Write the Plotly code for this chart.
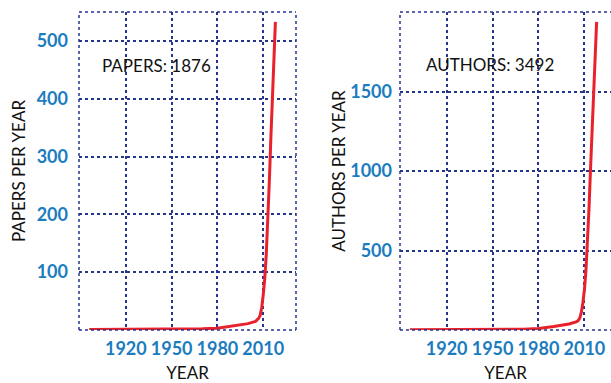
import plotly.graph_objects as go

# Papers published per year
paper_years = [1896, 1920, 1950, 1970, 1980, 1985, 1990, 1995, 2000, 2005, 2007,
               2008, 2009, 2010, 2011, 2012, 2013, 2014, 2015, 2016, 2017, 2018]
papers = [1, 1, 1, 2, 3, 5, 7, 9, 11, 15, 20,
          25, 38, 60, 88, 130, 185, 255, 330, 408, 485, 533]
total_papers = 1876

# Distinct authors per year
author_years = [1896, 1950, 1970, 1980, 1985, 1990, 1995, 2000, 2005, 2006, 2007,
                2008, 2009, 2010, 2011, 2012, 2013, 2014, 2015, 2016, 2017, 2018]
authors = [2, 3, 5, 10, 15, 22, 30, 38, 52, 60, 75,
           110, 170, 250, 370, 530, 760, 1010, 1250, 1520, 1760, 1938]
total_authors = 3492

year_ticks = [1920, 1950, 1980, 2010]
paper_ticks = [100, 200, 300, 400, 500]
author_ticks = [500, 1000, 1500]

W, H = 611, 383
LINE_RED = "#e8212b"
TICK_BLUE = "#1b7cc0"
GRID_BLUE = "#26358c"
FONT = "Lato"

fig = go.Figure()
fig.add_trace(go.Scatter(x=paper_years, y=papers, mode="lines",
                         line=dict(color=LINE_RED, width=3), xaxis="x", yaxis="y",
                         showlegend=False))
fig.add_trace(go.Scatter(x=author_years, y=authors, mode="lines",
                         line=dict(color=LINE_RED, width=3), xaxis="x2", yaxis="y2",
                         showlegend=False))

ydom = [1 - 330 / H, 1 - 12 / H]
tick_font = dict(family=FONT, size=18, color=TICK_BLUE)
title_font = dict(family=FONT, size=17, color="#111")


def xaxis_cfg(domain, rng, anchor):
    return dict(domain=domain, range=rng, anchor=anchor,
                tickvals=year_ticks, ticktext=[f"<b>{v}</b>" for v in year_ticks],
                tickfont=tick_font, ticks="", ticklabelstandoff=6,
                showline=False, zeroline=False,
                showgrid=True, gridcolor=GRID_BLUE, griddash="dot", gridwidth=1.5,
                title=dict(text="YEAR", font=title_font, standoff=18),
                automargin=False)


def yaxis_cfg(rng, ticks, anchor, title, standoff, label_gap):
    return dict(domain=ydom, range=rng, anchor=anchor,
                tickvals=ticks, ticktext=[f"<b>{v}</b>" for v in ticks],
                tickfont=tick_font, ticks="", ticklabelstandoff=label_gap,
                showline=False, zeroline=False,
                showgrid=True, gridcolor=GRID_BLUE, griddash="dot", gridwidth=1.5,
                title=dict(text=title, font=title_font, standoff=standoff),
                automargin=False)


fig.update_layout(
    width=W, height=H,
    margin=dict(l=0, r=0, t=0, b=0),
    paper_bgcolor="white", plot_bgcolor="white",
    template="none",
    xaxis=xaxis_cfg([79 / W, 296 / W], [1889.3, 2031.5], "y"),
    yaxis=yaxis_cfg([0, 550], paper_ticks, "x", "PAPERS PER YEAR", 6, 10),
    xaxis2=xaxis_cfg([400 / W, 1.0], [1889.5, 2027.4], "y2"),
    yaxis2=yaxis_cfg([0, 2000], author_ticks, "x2", "AUTHORS PER YEAR", 0, 7),
)

# Dotted frames: full box on the left panel; the right panel's box runs
# off the page, so only its top, left and bottom edges are drawn.
edge = dict(type="line", line=dict(color=GRID_BLUE, width=1.5, dash="dot"), layer="above")
for xr, yr, sides in (("x domain", "y domain", ("b", "t", "l", "r")),
                      ("x2 domain", "y2 domain", ("b", "t", "l"))):
    seg = {"b": (0, 1, 0, 0), "t": (0, 1, 1, 1), "l": (0, 0, 0, 1), "r": (1, 1, 0, 1)}
    for s in sides:
        x0, x1, y0, y1 = seg[s]
        fig.add_shape(xref=xr, yref=yr, x0=x0, x1=x1, y0=y0, y1=y1, **edge)

# Totals
fig.add_annotation(x=1940, y=458, xref="x", yref="y", text=f"PAPERS: {total_papers}",
                   showarrow=False, font=dict(family=FONT, size=17, color="#111"))
fig.add_annotation(x=1948, y=1668, xref="x2", yref="y2", text=f"AUTHORS: {total_authors}",
                   showarrow=False, font=dict(family=FONT, size=17, color="#111"))

fig.write_html("out.html")
